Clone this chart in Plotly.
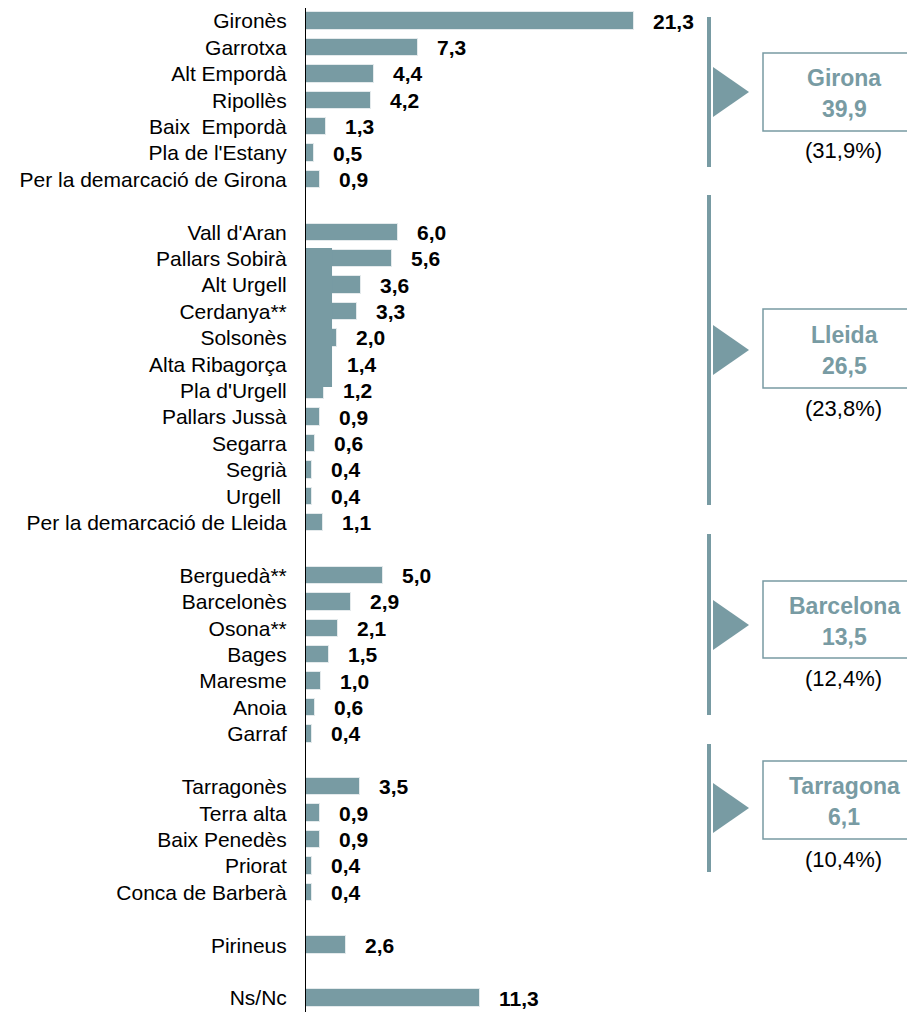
import plotly.graph_objects as go

# comarques per demarcació
girona_names = ["Gironès", "Garrotxa", "Alt Empordà", "Ripollès", "Baix\u00a0 Empordà",
                "Pla de l'Estany", "Per la demarcació de Girona"]
girona_vals = [21.3, 7.3, 4.4, 4.2, 1.3, 0.5, 0.9]

lleida_names = ["Vall d'Aran", "Pallars Sobirà", "Alt Urgell", "Cerdanya**", "Solsonès",
                "Alta Ribagorça", "Pla d'Urgell", "Pallars Jussà", "Segarra", "Segrià",
                "Urgell\u00a0", "Per la demarcació de Lleida"]
lleida_vals = [6.0, 5.6, 3.6, 3.3, 2.0, 1.4, 1.2, 0.9, 0.6, 0.4, 0.4, 1.1]

barcelona_names = ["Berguedà**", "Barcelonès", "Osona**", "Bages", "Maresme", "Anoia", "Garraf"]
barcelona_vals = [5.0, 2.9, 2.1, 1.5, 1.0, 0.6, 0.4]

tarragona_names = ["Tarragonès", "Terra alta", "Baix Penedès", "Priorat", "Conca de Barberà"]
tarragona_vals = [3.5, 0.9, 0.9, 0.4, 0.4]

pirineus_names = ["Pirineus"]
pirineus_vals = [2.6]

nsnc_names = ["Ns/Nc"]
nsnc_vals = [11.3]

# totals per demarcació
group_names = ["Girona", "Lleida", "Barcelona", "Tarragona"]
group_totals = [39.9, 26.5, 13.5, 6.1]
group_pcts = [31.9, 23.8, 12.4, 10.4]

blocks = [
    (girona_names, girona_vals),
    (lleida_names, lleida_vals),
    (barcelona_names, barcelona_vals),
    (tarragona_names, tarragona_vals),
    (pirineus_names, pirineus_vals),
    (nsnc_names, nsnc_vals),
]

names, vals, pos = [], [], []
row = 0
for bn, bv in blocks:
    for n, v in zip(bn, bv):
        names.append(n)
        vals.append(v)
        pos.append(row)
        row += 1
    row += 1  # blank row between blocks

BAR = "#789ba3"
# page has an 8px body margin, so the figure is a bit smaller than the window
OFF = 8
W, H = 915 - OFF, 1012 - OFF
LEFT = 306 - OFF
FONT = "Arial, Liberation Sans, sans-serif"


def fmt(v):
    return f"{v:.1f}".replace(".", ",")


# window pixel -> paper coords
def px(x):
    return (x - OFF - LEFT) / (W - LEFT)


def py(y):
    return 1 - (y - OFF) / H


fig = go.Figure()
fig.add_trace(go.Bar(
    x=vals, y=pos, orientation="h",
    marker=dict(color=BAR, line=dict(color="#e4eaec", width=1)),
    width=0.66, hoverinfo="skip", showlegend=False,
))

annotations = []
for v, p in zip(vals, pos):
    annotations.append(dict(
        x=v, y=p, xref="x", yref="y", text=f"<b>{fmt(v)}</b>",
        showarrow=False, xanchor="left", yanchor="middle", xshift=17,
        font=dict(family=FONT, size=21, color="black"),
    ))

# layout of the right-hand summary boxes (window pixels)
line_spans = [(17, 167), (195, 505), (534, 715), (744, 872)]
box_spans = [(53, 131), (309, 388), (581, 658), (761, 839)]
tri_centers = [92, 350, 625, 808]

shapes = []
for i in range(len(group_names)):
    y0, y1 = line_spans[i]
    shapes.append(dict(type="line", xref="paper", yref="paper",
                       x0=px(709), x1=px(709), y0=py(y0), y1=py(y1),
                       line=dict(color=BAR, width=4)))
    tc = tri_centers[i]
    shapes.append(dict(type="path", xref="paper", yref="paper",
                       path=f"M {px(713)},{py(tc - 25)} L {px(749)},{py(tc)} L {px(713)},{py(tc + 25)} Z",
                       fillcolor=BAR, line=dict(width=0)))
    b0, b1 = box_spans[i]
    shapes.append(dict(type="rect", xref="paper", yref="paper",
                       x0=px(763), x1=px(930), y0=py(b0), y1=py(b1),
                       line=dict(color=BAR, width=1.5), fillcolor="rgba(0,0,0,0)"))
    bc = (b0 + b1) / 2
    annotations.append(dict(x=px(844), y=py(bc - 14), xref="paper", yref="paper",
                            text=f"<b>{group_names[i]}</b>", showarrow=False,
                            xanchor="center", yanchor="middle",
                            font=dict(family=FONT, size=23, color=BAR)))
    annotations.append(dict(x=px(844), y=py(bc + 17), xref="paper", yref="paper",
                            text=f"<b>{fmt(group_totals[i])}</b>", showarrow=False,
                            xanchor="center", yanchor="middle",
                            font=dict(family=FONT, size=23, color=BAR)))
    annotations.append(dict(x=px(843), y=py(b1 + 20), xref="paper", yref="paper",
                            text=f"({fmt(group_pcts[i])}%)", showarrow=False,
                            xanchor="center", yanchor="middle",
                            font=dict(family=FONT, size=22, color="black")))

# stray block behind the Lleida bars in the original
shapes.append(dict(type="rect", xref="x", yref="y", x0=-0.08, x1=1.69, y0=8.6, y1=13.86,
                   fillcolor=BAR, line=dict(width=0), layer="above"))

row_px = (998 - 21) / 37
fig.update_layout(
    width=W, height=H,
    margin=dict(l=LEFT, r=0, t=0, b=0),
    plot_bgcolor="white", paper_bgcolor="white",
    bargap=0,
    xaxis=dict(range=[0, (W - LEFT) / 15.4], visible=False, fixedrange=True),
    yaxis=dict(
        range=[37 + (1012 - 998) / row_px, -(21 - OFF) / row_px],
        tickvals=pos, ticktext=names,
        showline=True, linecolor="black", linewidth=1,
        showgrid=False, zeroline=False, ticks="",
        ticklabelstandoff=14,
        tickfont=dict(family=FONT, size=21, color="black"),
        fixedrange=True,
    ),
    shapes=shapes,
    annotations=annotations,
)

fig.write_html("out.html")
